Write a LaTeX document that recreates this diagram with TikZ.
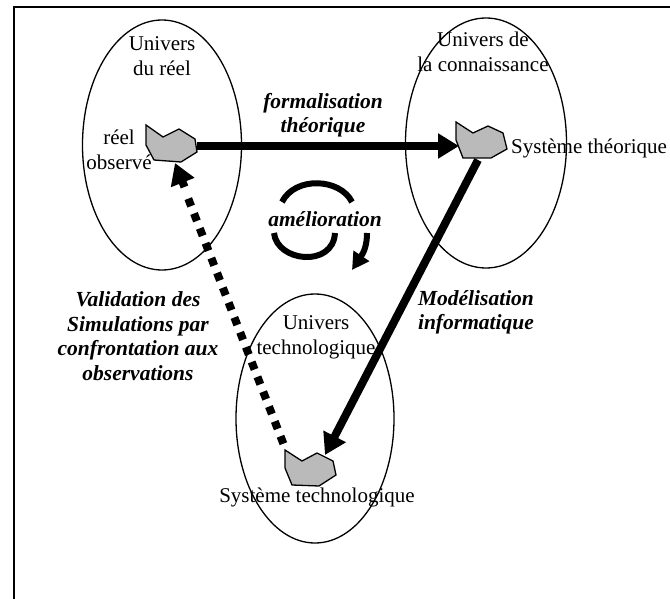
\documentclass[tikz,border=0pt]{standalone}
\usepackage{fontspec}
\setmainfont{Liberation Serif}
\usetikzlibrary{arrows.meta,shapes.geometric}
\tikzset{
  univers/.style={draw,ellipse,line width=1.3pt,inner sep=0pt},
  blob/.style={draw,line width=1.3pt,fill=black!27},
  texte/.style={align=center,font=\fontsize{21pt}{25pt}\selectfont,inner sep=0pt},
  titre/.style={texte,font=\fontsize{21.5pt}{24.5pt}\selectfont\bfseries\itshape},
  fleche/.style={line width=8pt,-{Triangle[length=21pt,width=24pt]}},
}
\begin{document}
\begin{tikzpicture}[x=1pt,y=-1pt]
  \useasboundingbox (0,0) rectangle (670,599);
  \node[draw,line width=2pt,minimum width=670,minimum height=620,inner sep=0pt] (cadre) at (349,317) {};
  % les trois univers
  \node[univers,minimum width=159,minimum height=250] (reel) at (162,145) {};
  \node[univers,minimum width=161,minimum height=250] (conn) at (486,143) {};
  \node[univers,minimum width=158,minimum height=249] (techno) at (315,418.5) {};
  % les formes
  \draw[blob] (146,125) -- (163,137) -- (179,129) -- (195,139) -- (197,152) -- (181,162) -- (154,160) -- (146,145) -- cycle;
  \draw[blob] (456,122) -- (473,133) -- (488,126) -- (503,133) -- (507,149) -- (491,158) -- (463,158) -- (456,140) -- cycle;
  \draw[blob] (285,450) -- (302,461) -- (317,453) -- (333,461) -- (336,475) -- (319,486) -- (292,485) -- (285,468) -- cycle;
  \coordinate (a) at (197,146);
  \coordinate (b) at (459,146);
  \coordinate (c) at (175,163);
  \coordinate (d) at (478,160);
  \coordinate (e) at (325,455);
  \coordinate (f) at (283.4,443.7);
  \coordinate (g) at (188,198);
  \coordinate (h) at (184.5,187);
  % les fleches
  \draw[fleche] (a) -- (b);
  \draw[fleche] (d) -- (e);
  \draw[line width=8pt,dash pattern=on 8pt off 7.93pt] (f) -- (g);
  \draw[fleche] (h) -- (c);
  % amelioration
  \coordinate (g1) at (282,202);
  \coordinate (g2) at (352,202);
  \coordinate (g3) at (274,233);
  \coordinate (g4) at (335,233);
  \coordinate (g5) at (367,233);
  \coordinate (g6) at (352,270);
  \draw[line width=6pt] (g1) .. controls (295,176) and (340,178) .. (g2);
  \draw[line width=6pt] (g3) .. controls (277,262) and (333,268) .. (g4);
  \draw[line width=6pt,-{Triangle[length=17pt,width=18pt]}] (g5) .. controls (367,245) and (364,252) .. (g6);
  % textes
  \node[texte] (t1) at (162,56) {Univers\\du réel};
  \node[texte] (t2) at (483,51.5) {Univers de\\la connaissance};
  \node[texte] (t3) at (316,337) {Univers\\technologique};
  \node[texte] (t4) at (119,150) {réel\\observé};
  \node[texte,anchor=west] (t5) at (511,148) {Système théorique};
  \node[texte] (t6) at (317,497) {Système technologique};
  \node[titre] (t7) at (323,115) {formalisation\\théorique};
  \node[titre] (t8) at (325,219) {amélioration};
  \node[titre] (t9) at (138,336) {Validation des\\Simulations par\\confrontation aux\\observations};
  \node[titre] (t10) at (476,312.5) {Modélisation\\informatique};
\end{tikzpicture}
\end{document}
